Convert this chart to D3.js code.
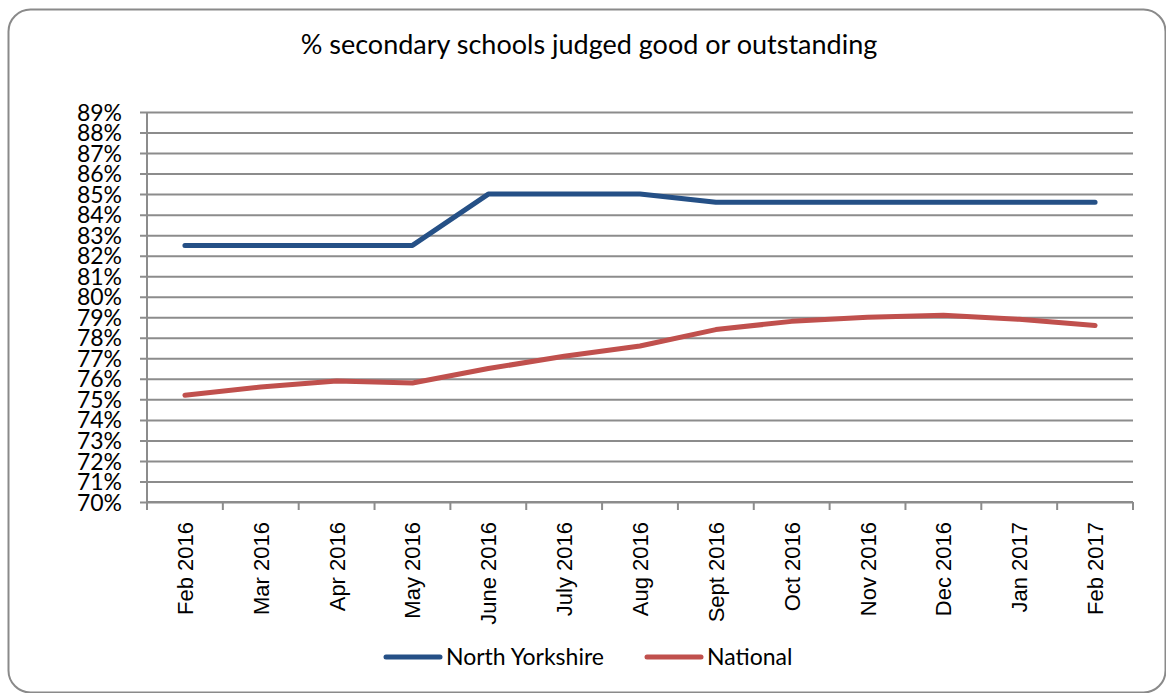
<!DOCTYPE html>
<html>
<head>
<meta charset="utf-8">
<script src="https://cdn.jsdelivr.net/npm/d3@7"></script>
<style>
	body { margin: 0; background: #fff; }
	svg { display: block; }
</style>
</head>
<body>
<div id="chart"></div>
<script>
// data
var months = ["Feb 2016","Mar 2016","Apr 2016","May 2016","June 2016","July 2016","Aug 2016",
	"Sept 2016","Oct 2016","Nov 2016","Dec 2016","Jan 2017","Feb 2017"];
var northYorkshire = [82.5,82.5,82.5,82.5,85.0,85.0,85.0,84.6,84.6,84.6,84.6,84.6,84.6];
var national = [75.2,75.6,75.9,75.8,76.5,77.1,77.6,78.4,78.8,79.0,79.1,78.9,78.6];
var yTicks = [70,71,72,73,74,75,76,77,78,79,80,81,82,83,84,85,86,87,88,89];
var seriesNames = ["North Yorkshire","National"];
var seriesColors = ["#255086","#C0504D"];

var width = 1166, height = 693;
var plot = {left: 147, right: 1133, top: 112, bottom: 502};

var svg = d3.select("#chart").append("svg")
	.attr("width", width)
	.attr("height", height);

// outer frame
svg.append("rect")
	.attr("x", 8.5).attr("y", 9.5)
	.attr("width", 1157).attr("height", 683)
	.attr("rx", 22).attr("ry", 22)
	.style("fill", "#fff")
	.style("stroke", "#8a8a8a")
	.style("stroke-width", 2);

// title
svg.append("text")
	.attr("x", 589).attr("y", 54)
	.attr("text-anchor", "middle")
	.style("font-family", "Lato, sans-serif")
	.style("font-size", "27px")
	.style("fill", "#000")
	.text("% secondary schools judged good or outstanding");

var x = d3.scaleBand().domain(months).range([plot.left, plot.right]).padding(0);
var y = d3.scaleLinear().domain([70, 89]).range([plot.bottom, plot.top]);

// gridlines + y axis
var yAxis = d3.axisLeft(y)
	.tickValues(yTicks)
	.tickSize(-(plot.right - plot.left))
	.tickSizeOuter(0)
	.tickFormat(function(d){ return d + "%"; });

var gy = svg.append("g")
	.attr("transform", "translate(" + plot.left + ",0)")
	.call(yAxis);
gy.select(".domain").remove();
gy.selectAll(".tick line")
	.attr("x1", -7)
	.style("stroke", "#8c8c8c")
	.style("stroke-width", 2);
gy.selectAll(".tick text")
	.attr("x", -25)
	.attr("dy", "0.35em")
	.style("font-family", "Lato, sans-serif")
	.style("font-size", "23px")
	.style("fill", "#000");

// y axis line
svg.append("line")
	.attr("x1", plot.left).attr("x2", plot.left)
	.attr("y1", plot.top).attr("y2", plot.bottom + 8)
	.style("stroke", "#8c8c8c")
	.style("stroke-width", 2);

// x axis: ticks at category boundaries
var bounds = months.map(function(m){ return x(m); }).concat([plot.right]);
svg.append("line")
	.attr("x1", plot.left).attr("x2", plot.right)
	.attr("y1", plot.bottom).attr("y2", plot.bottom)
	.style("stroke", "#8c8c8c")
	.style("stroke-width", 2);
svg.selectAll(".xtick")
	.data(bounds)
	.enter().append("line")
	.attr("class", "xtick")
	.attr("x1", function(d){ return d; }).attr("x2", function(d){ return d; })
	.attr("y1", plot.bottom).attr("y2", plot.bottom + 8)
	.style("stroke", "#8c8c8c")
	.style("stroke-width", 2);

svg.selectAll(".xlabel")
	.data(months)
	.enter().append("text")
	.attr("class", "xlabel")
	.attr("transform", function(d){
		return "translate(" + (x(d) + x.bandwidth()/2 + 8) + "," + (plot.bottom + 20) + ") rotate(-90)";
	})
	.attr("text-anchor", "end")
	.style("font-family", "'Liberation Sans', Arial, sans-serif")
	.style("font-size", "22px")
	.style("fill", "#000")
	.text(function(d){ return d; });

// lines
var line = d3.line()
	.x(function(d,i){ return x(months[i]) + x.bandwidth()/2; })
	.y(function(d){ return y(d); });

[northYorkshire, national].forEach(function(vals, k){
	svg.append("path")
		.datum(vals)
		.attr("d", line)
		.style("fill", "none")
		.style("stroke", seriesColors[k])
		.style("stroke-width", 5)
		.style("stroke-linecap", "round")
		.style("stroke-linejoin", "round");
});

// legend
var legendX = [386, 647];
seriesNames.forEach(function(name, k){
	var g = svg.append("g").attr("transform", "translate(" + legendX[k] + ",657)");
	g.append("line")
		.attr("x1", 0).attr("x2", 54)
		.style("stroke", seriesColors[k])
		.style("stroke-width", 5)
		.style("stroke-linecap", "round");
	g.append("text")
		.attr("x", 60).attr("dy", "0.35em")
		.style("font-family", "Lato, sans-serif")
		.style("font-size", "23px")
		.style("fill", "#000")
		.text(name);
});
</script>
</body>
</html>
